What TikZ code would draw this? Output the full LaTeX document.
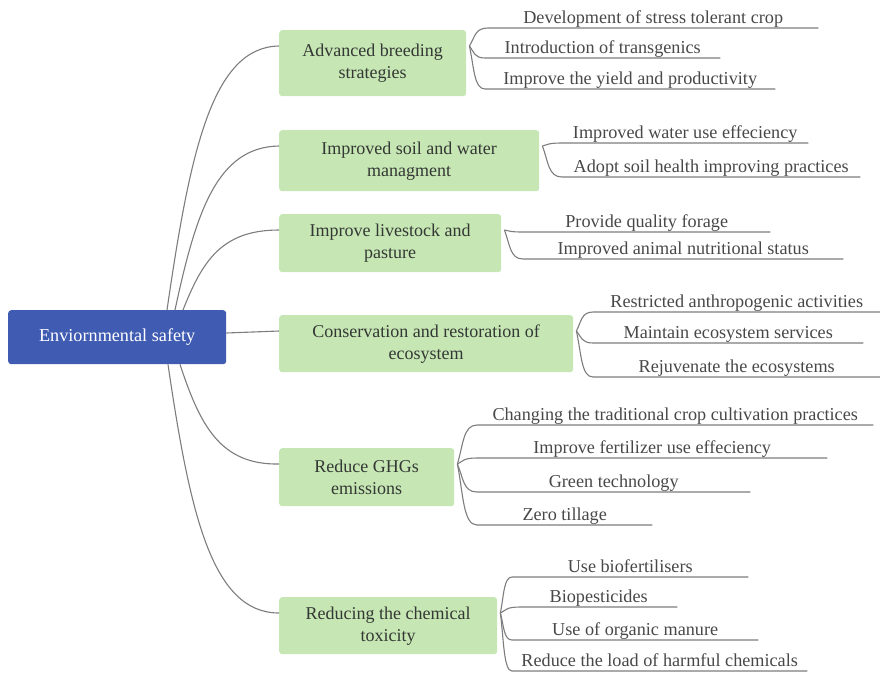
\documentclass[tikz,border=0pt]{standalone}
\usepackage{fontspec}
\setmainfont{Liberation Serif}
\usetikzlibrary{calc}
\definecolor{rootblue}{RGB}{64,91,178}
\definecolor{boxgreen}{RGB}{198,230,180}
\definecolor{boxtext}{RGB}{52,56,52}
\definecolor{leaftext}{RGB}{72,72,72}
\definecolor{linegray}{RGB}{125,125,125}
\tikzset{
  rootbox/.style={draw=none, fill=rootblue, rounded corners=3pt, inner sep=0pt, anchor=north west,
    text=white, font=\fontsize{18.2}{22}\selectfont},
  mainbox/.style={draw=none, fill=boxgreen, rounded corners=3pt, inner sep=0pt, anchor=north west,
    text=boxtext, align=center, font=\fontsize{18}{22}\selectfont},
  leaf/.style={anchor=south west, inner xsep=0pt, inner ysep=0pt, text height=12pt, text depth=4pt,
    text=leaftext, font=\fontsize{18.2}{22}\selectfont},
  conn/.style={draw=linegray, line width=1.1pt}
}
\begin{document}
\begin{tikzpicture}[x=1pt,y=-1pt]
\useasboundingbox (0,0) rectangle (880,673);
% root
\node[rootbox, minimum width=218pt, minimum height=54pt] (root) at (8,310) {Enviornmental safety};
% main boxes
\node[mainbox, minimum width=187pt, minimum height=66pt] (b1) at (279,30) {Advanced breeding\\strategies};
\node[mainbox, minimum width=260pt, minimum height=61pt] (b2) at (279,130) {Improved soil and water\\managment};
\node[mainbox, minimum width=222pt, minimum height=58pt] (b3) at (279,214) {Improve livestock and\\pasture};
\node[mainbox, minimum width=294pt, minimum height=57pt] (b4) at (279,315) {Conservation and restoration of\\ecosystem};
\node[mainbox, minimum width=175pt, minimum height=58pt] (b5) at (279,448) {Reduce GHGs\\emissions};
\node[mainbox, minimum width=218pt, minimum height=57pt] (b6) at (279,597) {Reducing the chemical\\toxicity};
% attach points
\foreach \b in {1,...,6}{
  \coordinate (a\b) at ($(b\b.north west)+(0,16)$);
  \coordinate (t\b) at ($(b\b.north east)+(3,16)$);
}
% start points on root
\coordinate (r1) at ($(root.north west)+(159,0)$);
\coordinate (r2) at ($(root.north west)+(167,0)$);
\coordinate (r3) at ($(root.north west)+(175,0)$);
\coordinate (r5) at ($(root.south west)+(172,0)$);
\coordinate (r6) at ($(root.south west)+(160,0)$);
\coordinate (r4) at ($(root.north east)+(0,23)$);
% root connectors
\draw[conn] (r1) .. controls (190,152) and (212,47) .. (a1);
\draw[conn] (r2) .. controls (196,212) and (217,147) .. (a2);
\draw[conn] (r3) .. controls (202,262) and (221,230) .. (a3);
\draw[conn] (r4) -- (a4);
\draw[conn] (r5) .. controls (200,425) and (220,465) .. (a5);
\draw[conn] (r6) .. controls (190,514) and (212,613) .. (a6);
% leaves group 1
\node[leaf, minimum width=330pt] (l11) at (488,28) {Development of stress tolerant crop};
\node[leaf, minimum width=235pt] (l12) at (485,58) {Introduction of transgenics};
\node[leaf, minimum width=290pt] (l13) at (485,89) {Improve the yield and productivity};
% group 2
\node[leaf, minimum width=246pt] (l21) at (562,143) {Improved water use effeciency};
\node[leaf, minimum width=298pt] (l22) at (562,177) {Adopt soil health improving practices};
% group 3
\node[leaf, minimum width=247pt] (l31) at (523,232) {Provide quality forage};
\node[leaf, minimum width=320pt] (l32) at (523,259) {Improved animal nutritional status};
% group 4
\node[leaf, minimum width=287pt] (l41) at (593,312) {Restricted anthropogenic activities};
\node[leaf, minimum width=270pt] (l42) at (593,343) {Maintain ecosystem services};
\node[leaf, minimum width=287pt] (l43) at (593,377) {Rejuvenate the ecosystems};
% group 5
\node[leaf, minimum width=396pt] (l51) at (477,425) {Changing the traditional crop cultivation practices};
\node[leaf, minimum width=350pt] (l52) at (477,458) {Improve fertilizer use effeciency};
\node[leaf, minimum width=273pt] (l53) at (477,492) {Green technology};
\node[leaf, minimum width=175pt] (l54) at (477,525) {Zero tillage};
% group 6
\node[leaf, minimum width=236pt] (l61) at (512,577) {Use biofertilisers};
\node[leaf, minimum width=157pt] (l62) at (520,607) {Biopesticides};
\node[leaf, minimum width=246pt] (l63) at (512,640) {Use of organic manure};
\node[leaf, minimum width=295pt] (l64) at (512,671) {Reduce the load of harmful chemicals};
% brackets
\foreach \g/\leaves in {1/{l11,l12,l13},2/{l21,l22},3/{l31,l32},4/{l41,l42,l43},5/{l51,l52,l53,l54},6/{l61,l62,l63,l64}}{
  \foreach \l in \leaves {
    \draw[conn] let \p1=(t\g), \p2=(\l.south west) in
      (\p1) .. controls ({0.7*\x1+0.3*\x2},{0.5*\y1+0.5*\y2}) and ({0.7*\x1+0.3*\x2},\y2) .. (\p2) -- (\l.south east);
  }
}
\end{tikzpicture}
\end{document}
